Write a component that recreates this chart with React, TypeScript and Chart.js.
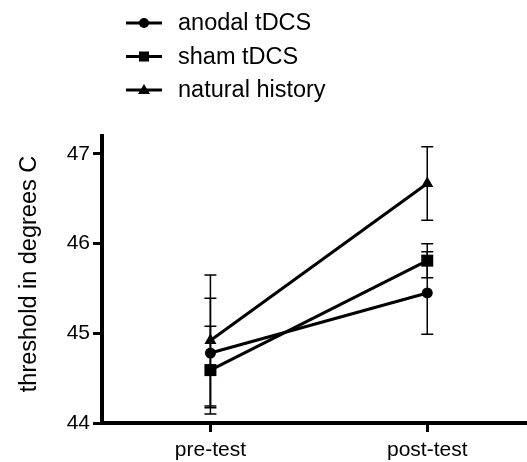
import React, { useEffect, useRef } from "react";
import { Chart, registerables } from "chart.js";

Chart.register(...registerables);

const categories = ["pre-test", "post-test"];
const seriesLabels = ["anodal tDCS", "sham tDCS", "natural history"];
const seriesStyles = ["circle", "rect", "triangle"];
const anodalValues = [44.78, 45.45];
const anodalErrors = [0.61, 0.46];
const shamValues = [44.59, 45.81];
const shamErrors = [0.49, 0.19];
const naturalValues = [44.92, 46.67];
const naturalErrors = [0.73, 0.41];
const yTicks = [44, 45, 46, 47];
const yTitle = "threshold in degrees C";

const FONT = "'Liberation Sans', Arial, sans-serif";

const allValues = [anodalValues, shamValues, naturalValues];
const allErrors = [anodalErrors, shamErrors, naturalErrors];
const pointRadii = [5.5, 8.5, 7];

const errorBarPlugin = {
  id: "errorBars",
  beforeDatasetsDraw(chart: any) {
    const ctx = chart.ctx;
    const xs = chart.scales.x;
    const ys = chart.scales.y;
    ctx.save();
    ctx.strokeStyle = "#000";
    ctx.lineWidth = 1.5;
    allValues.forEach((vals, si) => {
      vals.forEach((v, i) => {
        const e = allErrors[si][i];
        const px = xs.getPixelForValue(i);
        const top = ys.getPixelForValue(v + e);
        const bot = ys.getPixelForValue(v - e);
        ctx.beginPath();
        ctx.moveTo(px, top);
        ctx.lineTo(px, bot);
        ctx.moveTo(px - 6, top);
        ctx.lineTo(px + 6, top);
        ctx.moveTo(px - 6, bot);
        ctx.lineTo(px + 6, bot);
        ctx.stroke();
      });
    });
    ctx.restore();
  },
};

const legendPlugin = {
  id: "customLegend",
  afterDraw(chart: any) {
    const ctx = chart.ctx;
    ctx.save();
    chart.data.datasets.forEach((ds: any, i: number) => {
      const y = 23 + i * 33.5;
      ctx.strokeStyle = "#000";
      ctx.lineWidth = 3;
      ctx.beginPath();
      ctx.moveTo(126, y);
      ctx.lineTo(162, y);
      ctx.stroke();
      ctx.fillStyle = "#000";
      const style = ds.pointStyle;
      ctx.beginPath();
      if (style === "circle") {
        ctx.arc(144, y, 5, 0, Math.PI * 2);
      } else if (style === "rect") {
        ctx.rect(139, y - 5, 10, 10);
      } else {
        ctx.moveTo(144, y - 6);
        ctx.lineTo(150, y + 4);
        ctx.lineTo(138, y + 4);
        ctx.closePath();
      }
      ctx.fill();
      ctx.font = `23.5px ${FONT}`;
      ctx.textBaseline = "middle";
      ctx.textAlign = "left";
      ctx.fillText(ds.label, 178, y + 1);
    });
    // y axis title
    ctx.translate(30, 274);
    ctx.rotate(-Math.PI / 2);
    ctx.font = `23.5px ${FONT}`;
    ctx.textAlign = "center";
    ctx.textBaseline = "middle";
    ctx.fillText(yTitle, 0, 0);
    ctx.restore();
  },
};

export default function App() {
  const ref = useRef<HTMLCanvasElement>(null);
  useEffect(() => {
    document.body.style.margin = "0";
    const datasets = seriesLabels.map((label, si) => ({
      label,
      data: allValues[si].map((v, i) => ({ x: i, y: v })),
      borderColor: "#000",
      backgroundColor: "#000",
      borderWidth: 3,
      pointStyle: seriesStyles[si],
      pointRadius: pointRadii[si],
      pointBackgroundColor: "#000",
      pointBorderWidth: 0,
      tension: 0,
      clip: false,
    }));
    const chart = new Chart(ref.current!, {
      type: "line",
      data: { datasets },
      options: {
        animation: false,
        responsive: false,
        maintainAspectRatio: false,
        layout: { autoPadding: false, padding: { top: 136, left: 0, right: 0, bottom: 0 } },
        plugins: { legend: { display: false }, tooltip: { enabled: false } },
        scales: {
          x: {
            type: "linear",
            min: -0.5,
            max: 1.46,
            afterBuildTicks: (s: any) => {
              s.ticks = categories.map((_, i) => ({ value: i }));
            },
            afterFit: (s: any) => {
              s.height = 39;
              s.paddingLeft = 0;
              s.paddingRight = 0;
            },
            ticks: {
              color: "#000",
              font: { family: FONT, size: 21 },
              padding: 6,
              callback: (v: any) => categories[v as number] ?? "",
            },
            grid: {
              drawOnChartArea: false,
              drawTicks: true,
              tickLength: 9,
              tickWidth: 3,
              color: "#000",
            },
            border: { display: true, color: "#000", width: 4 },
          },
          y: {
            type: "linear",
            min: 44,
            max: 47.2,
            afterBuildTicks: (s: any) => {
              s.ticks = yTicks.map((v) => ({ value: v }));
            },
            afterFit: (s: any) => {
              s.width = 102;
              s.paddingTop = 0;
              s.paddingBottom = 0;
            },
            ticks: {
              color: "#000",
              font: { family: FONT, size: 21 },
              padding: 3,
            },
            grid: {
              drawOnChartArea: false,
              drawTicks: true,
              tickLength: 9,
              tickWidth: 3,
              color: "#000",
            },
            border: { display: true, color: "#000", width: 4 },
          },
        },
      },
      plugins: [errorBarPlugin, legendPlugin],
    } as any);
    return () => chart.destroy();
  }, []);
  return (
    <div style={{ width: 527, height: 462, position: "relative" }}>
      <canvas ref={ref} width={527} height={462} style={{ display: "block" }} />
    </div>
  );
}
